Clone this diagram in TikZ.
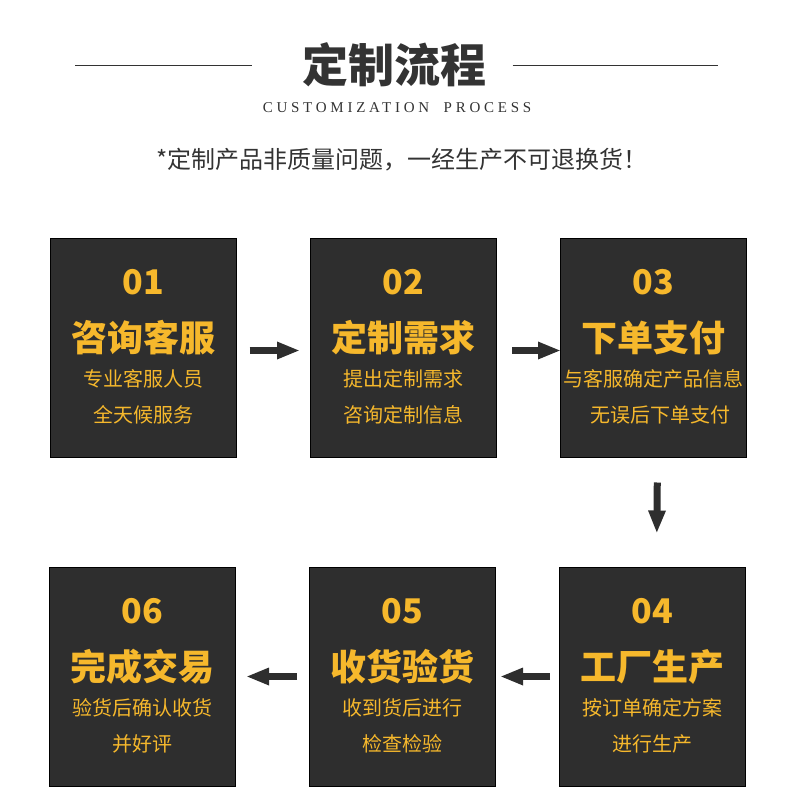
\documentclass[tikz,border=0pt]{standalone}
\usepackage{fontspec}
\setmainfont{Liberation Serif}
\newfontfamily\cjk{Noto Sans CJK SC}
\newfontfamily\spaced[LetterSpace=25]{Liberation Serif}
\usetikzlibrary{arrows.meta}
\definecolor{boxgray}{HTML}{2E2E2E}
\definecolor{gold}{HTML}{F6B82C}
\definecolor{ink}{HTML}{333333}

\begin{document}
\begin{tikzpicture}[
    x=1pt, y=-1pt,
    stepbox/.style={rectangle, draw=black, line width=1pt, fill=boxgray,
        minimum width=186pt, minimum height=219pt},
    num/.style={text=gold, font=\cjk\bfseries\fontsize{34}{34}\selectfont},
    head/.style={text=gold, font=\cjk\bfseries\fontsize{36}{36}\selectfont},
    note/.style={text=gold, font=\cjk\fontsize{20}{20}\selectfont},
    flow/.style={draw=boxgray, line width=7pt,
        -{Triangle[length=23pt, width=16pt]}}
]
\useasboundingbox (0,0) rectangle (790,808);

% title
\node[text=ink, font=\cjk\bfseries\fontsize{46}{46}\selectfont] (title) at (394,65) {定制流程};
\coordinate (la) at (75,66);
\coordinate (lb) at (718,66);
\draw[ink, line width=1pt] (la) -- ([xshift=-46pt]title.west |- la);
\draw[ink, line width=1pt] ([xshift=23pt]title.east |- lb) -- (lb);
\node[text=ink, font=\spaced\fontsize{15}{15}\selectfont] (sub) at (397,108) {CUSTOMIZATION \kern7pt PROCESS};
\node[text=ink, font=\cjk\fontsize{24}{24}\selectfont] (warn) at (402,160) {*定制产品非质量问题，一经生产不可退换货！};

% boxes
\node[stepbox] (b1) at (143,347.5) {};
\node[stepbox] (b2) at (403.5,347.5) {};
\node[stepbox] (b3) at (653.5,347.5) {};
\node[stepbox] (b4) at (652.5,676.5) {};
\node[stepbox] (b5) at (402.5,676.5) {};
\node[stepbox] (b6) at (142.5,676.5) {};

% box texts
\node[num]  at ([yshift=-45pt]b1.north)  {01};
\node[head] at ([yshift=-100pt]b1.north) {咨询客服};
\node[note] at ([yshift=-141pt]b1.north) {专业客服人员};
\node[note] at ([yshift=-177pt]b1.north) {全天候服务};

\node[num]  at ([yshift=-45pt]b2.north)  {02};
\node[head] at ([yshift=-100pt]b2.north) {定制需求};
\node[note] at ([yshift=-141pt]b2.north) {提出定制需求};
\node[note] at ([yshift=-177pt]b2.north) {咨询定制信息};

\node[num]  at ([yshift=-45pt]b3.north)  {03};
\node[head] at ([yshift=-100pt]b3.north) {下单支付};
\node[note] at ([yshift=-141pt]b3.north) {与客服确定产品信息};
\node[note] at ([xshift=7pt, yshift=-177pt]b3.north) {无误后下单支付};

\node[num]  at ([yshift=-45pt]b4.north)  {04};
\node[head] at ([yshift=-100pt]b4.north) {工厂生产};
\node[note] at ([yshift=-141pt]b4.north) {按订单确定方案};
\node[note] at ([yshift=-177pt]b4.north) {进行生产};

\node[num]  at ([yshift=-45pt]b5.north)  {05};
\node[head] at ([yshift=-100pt]b5.north) {收货验货};
\node[note] at ([yshift=-141pt]b5.north) {收到货后进行};
\node[note] at ([yshift=-177pt]b5.north) {检查检验};

\node[num]  at ([yshift=-45pt]b6.north)  {06};
\node[head] at ([yshift=-100pt]b6.north) {完成交易};
\node[note] at ([yshift=-141pt]b6.north) {验货后确认收货};
\node[note] at ([yshift=-177pt]b6.north) {并好评};

% arrows
\draw[flow, shorten <=13pt, shorten >=10pt] ([yshift=-3pt]b1.east) -- ([yshift=-3pt]b2.west);
\draw[flow, shorten <=15pt, shorten >=-1pt] ([yshift=-3pt]b2.east) -- ([yshift=-3pt]b3.west);
\draw[flow, shorten <=25pt, shorten >=33pt] ([xshift=4pt]b3.south) -- ([xshift=4pt]b4.north);
\draw[flow, shorten <=9pt, shorten >=4pt] (b4.west) -- (b5.east);
\draw[flow, shorten <=12pt, shorten >=10pt] (b5.west) -- (b6.east);
\end{tikzpicture}
\end{document}
